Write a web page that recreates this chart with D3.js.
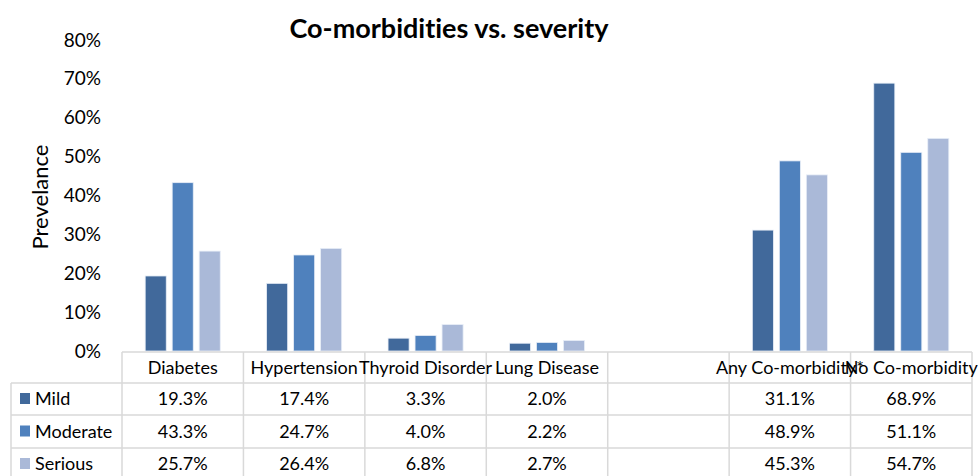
<!DOCTYPE html>
<html>
<head>
<meta charset="utf-8">
<script src="https://cdn.jsdelivr.net/npm/d3@7"></script>
<style>
  body { margin: 0; background: #fff; }
  svg { font-family: Lato, "Open Sans", sans-serif; font-variant-ligatures: none; }
</style>
</head>
<body>
<div id="chart"></div>
<script>
var categories = ["Diabetes", "Hypertension", "Thyroid Disorder", "Lung Disease", "", "Any Co-morbidity*", "No Co-morbidity"];
var seriesNames = ["Mild", "Moderate", "Serious"];
var mild = [19.3, 17.4, 3.3, 2.0, null, 31.1, 68.9];
var moderate = [43.3, 24.7, 4.0, 2.2, null, 48.9, 51.1];
var serious = [25.7, 26.4, 6.8, 2.7, null, 45.3, 54.7];
var yTicks = [0, 10, 20, 30, 40, 50, 60, 70, 80];
var colors = ["#41699b", "#4f81bd", "#aab9d8"];

var width = 978;
var height = 476;

var svg = d3.select("#chart")
    .append("svg")
    .attr("width", width)
    .attr("height", height);

var allSeries = [mild, moderate, serious];

// Scales
var x = d3.scaleBand()
    .domain(d3.range(categories.length))
    .range([122, 972]);

var y = d3.scaleLinear()
    .domain([0, 80])
    .range([351, 40]);

var x1 = d3.scaleBand()
    .domain(seriesNames)
    .range([0, 81])
    .paddingInner(0.22)
    .paddingOuter(0.11);

// Title
svg.append("text")
    .attr("x", 449)
    .attr("y", 38)
    .attr("text-anchor", "middle")
    .style("font-size", "27px")
    .style("font-weight", "bold")
    .text("Co-morbidities vs. severity");

// Y axis labels (no line, no ticks)
var yAxis = d3.axisLeft(y)
    .tickValues(yTicks)
    .tickFormat(d => d + "%")
    .tickSize(0)
    .tickPadding(0);

var yAxisG = svg.append("g")
    .attr("transform", "translate(101,0)")
    .call(yAxis);
yAxisG.select(".domain").remove();
yAxisG.selectAll("text")
    .style("font-family", "Lato, sans-serif")
    .style("font-size", "19px")
    .attr("fill", "#000");

// Y label
svg.append("text")
    .attr("transform", "translate(48,197) rotate(-90)")
    .attr("text-anchor", "middle")
    .style("font-size", "22px")
    .text("Prevelance");

// Bars
seriesNames.forEach(function(name, si) {
    var data = allSeries[si].map((v, i) => ({ i: i, v: v })).filter(d => d.v !== null);
    svg.append("g")
        .selectAll("rect")
        .data(data)
        .enter()
        .append("rect")
        .attr("x", d => x(d.i) + x.bandwidth() / 2 - 40.5 + x1(name))
        .attr("width", x1.bandwidth())
        .attr("y", d => y(d.v))
        .attr("height", d => y(0) - y(d.v))
        .attr("fill", colors[si])
        .attr("stroke", "#e8eef7")
        .attr("stroke-width", 0.8);
});

// Data table
var rowTops = [352, 383, 415, 448];
var rowH = [31, 32, 33, 32];
var gridColor = "#d9d9d9";
var tableG = svg.append("g");

// horizontal lines
tableG.append("line")
    .attr("x1", 122).attr("x2", 972)
    .attr("y1", rowTops[0]).attr("y2", rowTops[0])
    .attr("stroke", gridColor).attr("stroke-width", 1.5);
rowTops.slice(1).forEach(function(ty) {
    tableG.append("line")
        .attr("x1", 11).attr("x2", 972)
        .attr("y1", ty).attr("y2", ty)
        .attr("stroke", gridColor).attr("stroke-width", 1.5);
});
// left border
tableG.append("line")
    .attr("x1", 11).attr("x2", 11)
    .attr("y1", 383).attr("y2", height)
    .attr("stroke", gridColor).attr("stroke-width", 1.5);
// category boundaries
d3.range(categories.length + 1).forEach(function(i) {
    var bx = i < categories.length ? x(i) : x.range()[1];
    tableG.append("line")
        .attr("x1", bx).attr("x2", bx)
        .attr("y1", 352).attr("y2", height)
        .attr("stroke", gridColor).attr("stroke-width", 1.5);
});

// category header labels
tableG.selectAll("text.cat")
    .data(categories)
    .enter()
    .append("text")
    .attr("class", "cat")
    .attr("x", (d, i) => x(i) + x.bandwidth() / 2)
    .attr("y", 374)
    .attr("text-anchor", "middle")
    .style("font-size", "18px")
    .text(d => d);

// legend rows + values
seriesNames.forEach(function(name, si) {
    var cy = rowTops[si + 1] + rowH[si + 1] / 2;
    tableG.append("rect")
        .attr("x", 20).attr("y", cy - 6)
        .attr("width", 10).attr("height", 11)
        .attr("fill", colors[si]);
    tableG.append("text")
        .attr("x", 35).attr("y", cy + 6)
        .style("font-size", "18px")
        .text(name);
    allSeries[si].forEach(function(v, i) {
        if (v === null) return;
        tableG.append("text")
            .attr("x", x(i) + x.bandwidth() / 2)
            .attr("y", cy + 6)
            .attr("text-anchor", "middle")
            .style("font-size", "18px")
            .text(v.toFixed(1) + "%");
    });
});
</script>
</body>
</html>
